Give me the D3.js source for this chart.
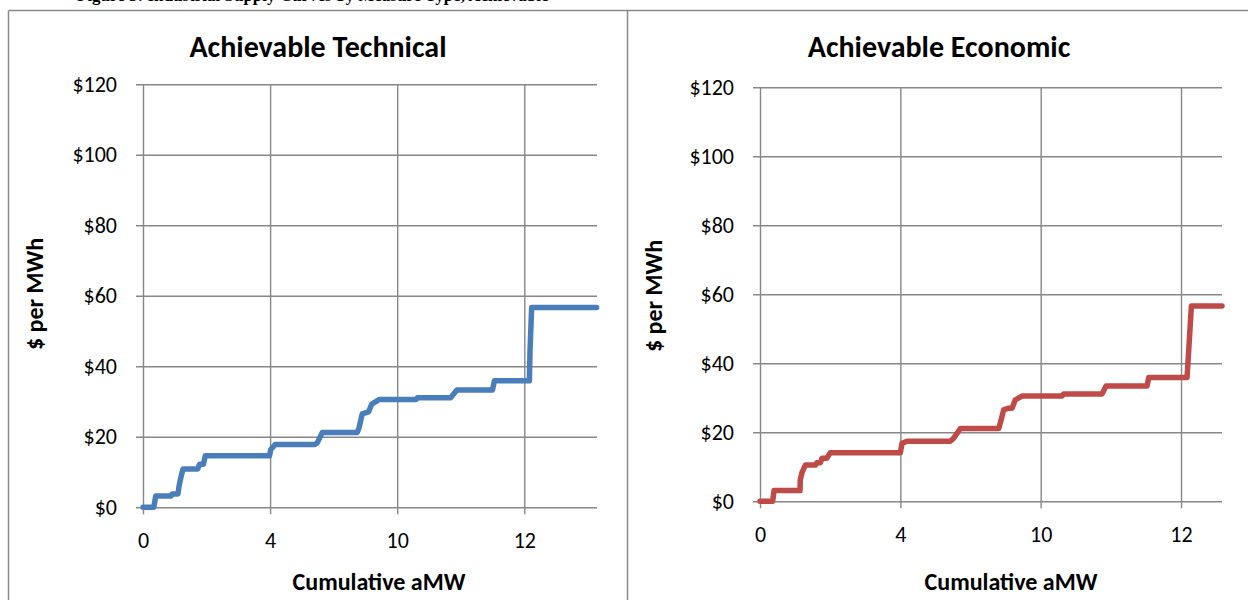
<!DOCTYPE html>
<html>
<head>
<meta charset="utf-8">
<script src="https://cdn.jsdelivr.net/npm/d3@7"></script>
<style>
  html, body { margin: 0; padding: 0; background: #fff; }
  svg { display: block; }
  text { font-family: Carlito, Calibri, Lato, "Open Sans", sans-serif; fill: #000; }
  .heading { font-family: "Liberation Serif", "Times New Roman", serif; font-weight: bold; }
</style>
</head>
<body>
<svg id="chart" width="1248" height="600"></svg>
<script>
// Category tick labels along the cumulative aMW axis (equally spaced categories)
const tickLabels = ["0", "4", "10", "12"];
// Price levels shown on the vertical axis ($ per MWh)
const priceTicks = [0, 20, 40, 60, 80, 100, 120];

// Achievable Technical supply curve: position along category axis (tick units) and price ($/MWh)
const techX = [0, 0.085, 0.10, 0.22, 0.23, 0.275, 0.285, 0.30, 0.315, 0.43, 0.445, 0.475, 0.49,
  0.995, 1.005, 1.04, 1.35, 1.37, 1.41, 1.685, 1.70, 1.725, 1.775, 1.80, 1.86,
  2.15, 2.16, 2.42, 2.47, 2.75, 2.765, 3.04, 3.045, 3.058, 3.569];
const techPrice = [0, 0, 3.2, 3.2, 3.8, 3.8, 6.3, 8.8, 10.9, 10.9, 12.2, 12.2, 14.6,
  14.6, 16.4, 17.8, 17.8, 18.2, 21.2, 21.2, 22.6, 26.5, 27.1, 29.3, 30.6,
  30.6, 31.1, 31.1, 33.3, 33.3, 35.9, 35.9, 44.4, 56.7, 56.7];

// Achievable Economic supply curve
const econX = [0, 0.09, 0.10, 0.285, 0.287, 0.299, 0.323, 0.394, 0.406, 0.430, 0.442, 0.477, 0.501,
  1.000, 1.012, 1.048, 1.356, 1.380, 1.428, 1.701, 1.712, 1.736, 1.772, 1.796, 1.819, 1.867,
  2.152, 2.164, 2.437, 2.466, 2.758, 2.770, 3.043, 3.055, 3.074, 3.292];
const econPrice = [0, 0, 3.1, 3.1, 6.2, 8.3, 10.5, 10.5, 11.2, 11.2, 12.5, 12.5, 14.1,
  14.1, 16.8, 17.4, 17.4, 18.3, 21.1, 21.1, 22.6, 26.5, 27.0, 27.0, 29.4, 30.5,
  30.5, 31.1, 31.1, 33.4, 33.4, 35.9, 35.9, 43.9, 56.6, 56.6];

const panels = [
  { title: "Achievable Technical", xs: techX, ys: techPrice, xMax: 3.572, color: "#4a7ebb",
    left: 143, right: 597, top: 84.3, bottom: 507.3, titleX: 318, xTitleX: 379, yTitleX: 35, yTitleY: 294 },
  { title: "Achievable Economic", xs: econX, ys: econPrice, xMax: 3.292, color: "#be4b48",
    left: 760, right: 1222, top: 87.3, bottom: 501.3, titleX: 939, xTitleX: 1011, yTitleX: 654, yTitleY: 296 }
];

const svg = d3.select("#chart");
const gridColor = "#878787";

// Figure heading running off the top of the page
svg.append("text").attr("class", "heading")
  .attr("x", 77).attr("y", 0.5)
  .attr("font-size", 17)
  .text("Figure 5: Industrial Supply Curves by Measure Type, Achievable");

// Panel frames
const frame = svg.append("g").attr("stroke", "#8a8a8a").attr("stroke-width", 1.5);
frame.append("line").attr("x1", 8.5).attr("x2", 1248).attr("y1", 10.5).attr("y2", 10.5);
frame.append("line").attr("x1", 8.5).attr("x2", 8.5).attr("y1", 10.5).attr("y2", 600);
frame.append("line").attr("x1", 627.5).attr("x2", 627.5).attr("y1", 10.5).attr("y2", 600);

panels.forEach(p => {
  const x = d3.scaleLinear().domain([0, p.xMax]).range([p.left, p.right]);
  const y = d3.scaleLinear().domain([0, 120]).range([p.bottom, p.top]);
  const g = svg.append("g");
  const w = p.right - p.left, h = p.bottom - p.top;

  // Horizontal gridlines with outward tick marks and price labels
  const yAxis = g.append("g").attr("transform", `translate(${p.left},0)`)
    .call(d3.axisLeft(y).tickValues(priceTicks).tickFormat(d => "$" + d)
      .tickSizeInner(7).tickSizeOuter(0).tickPadding(19));
  yAxis.select(".domain").remove();
  yAxis.selectAll(".tick line").attr("x2", -7).attr("x1", w)
    .attr("stroke", gridColor).attr("stroke-width", 1.4);
  yAxis.selectAll(".tick text").attr("font-size", 22);

  // Vertical gridlines at category labels
  const xAxis = g.append("g").attr("transform", `translate(0,${p.bottom})`)
    .call(d3.axisBottom(x).tickValues(d3.range(tickLabels.length))
      .tickFormat(i => tickLabels[i]).tickSizeInner(7).tickSizeOuter(0).tickPadding(18));
  xAxis.select(".domain").remove();
  xAxis.selectAll(".tick line").attr("y1", -h).attr("y2", 7)
    .attr("stroke", gridColor).attr("stroke-width", 1.4);
  xAxis.selectAll(".tick text").attr("font-size", 22);

  // Supply curve
  const pts = p.xs.map((v, i) => [v, p.ys[i]]);
  g.append("path").datum(pts)
    .attr("d", d3.line().x(d => x(d[0])).y(d => y(d[1])))
    .attr("fill", "none").attr("stroke", p.color).attr("stroke-width", 5.5)
    .attr("stroke-linejoin", "round").attr("stroke-linecap", "round");

  // Titles
  g.append("text").attr("x", p.titleX).attr("y", 57).attr("text-anchor", "middle")
    .attr("font-size", 30).attr("font-weight", "bold").text(p.title);
  g.append("text").attr("x", p.xTitleX).attr("y", 590).attr("text-anchor", "middle")
    .attr("font-size", 24).attr("font-weight", "bold").text("Cumulative aMW");
  g.append("text").attr("transform", `translate(${p.yTitleX + 8},${p.yTitleY}) rotate(-90)`)
    .attr("text-anchor", "middle")
    .attr("font-size", 24).attr("font-weight", "bold").text("$ per MWh");
});
</script>
</body>
</html>
